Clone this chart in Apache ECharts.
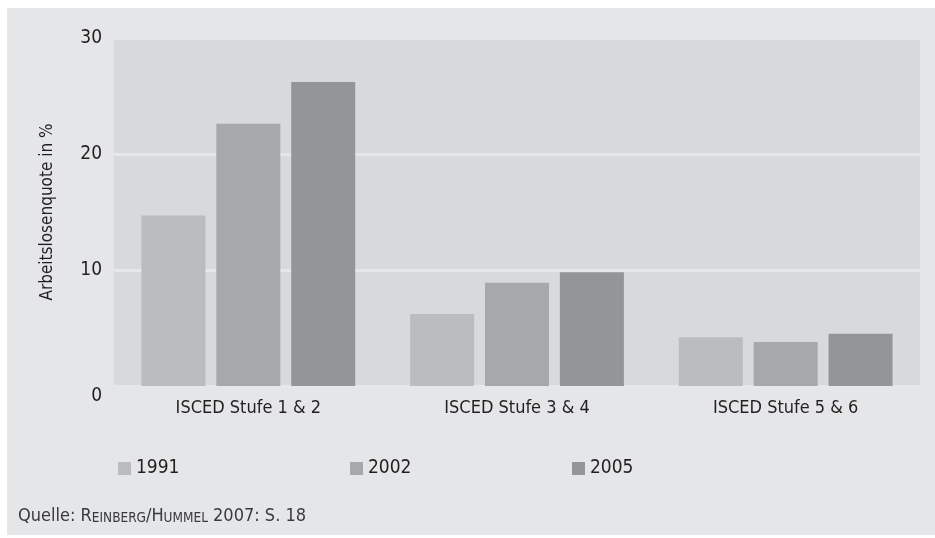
<!DOCTYPE html>
<html>
<head>
<meta charset="utf-8">
<script src="https://cdn.jsdelivr.net/npm/echarts@6/dist/echarts.min.js"></script>
<style>
html,body{margin:0;padding:0;background:#ffffff;}
#wrap{position:absolute;left:0;top:0;width:935px;height:538px;background:#ffffff;}
#chart{position:absolute;left:7px;top:8px;width:928px;height:527px;}
</style>
</head>
<body>
<div id="wrap"><div id="chart"></div></div>
<script>
var categories = ['ISCED Stufe 1 & 2', 'ISCED Stufe 3 & 4', 'ISCED Stufe 5 & 6'];
var years = ['1991', '2002', '2005'];
var values1991 = [14.7, 6.2, 4.2];
var values2002 = [22.6, 8.9, 3.8];
var values2005 = [26.2, 9.8, 4.5];
var yTicks = [0, 10, 20, 30];
var yAxisTitle = 'Arbeitslosenquote in %';
var colors = ['#bbbcbf', '#a7a8ab', '#949599'];

var FONT = "'Liberation Sans Narrow', 'DejaVu Sans Condensed', 'Liberation Sans', sans-serif";
var TXT = '#231f20';

var chart = echarts.init(document.getElementById('chart'), null, {renderer: 'canvas'});
var seriesData = [values1991, values2002, values2005];

function makeLegend(i, left) {
  return {
    data: [{name: years[i], icon: 'rect'}],
    left: left,
    top: 446,
    itemWidth: 13,
    itemHeight: 13,
    itemGap: 0,
    selectedMode: false,
    textStyle: {fontFamily: FONT, fontSize: 19, color: TXT, padding: [0, 0, 0, 0]}
  };
}

chart.setOption({
  backgroundColor: '#e5e6e8',
  animation: false,
  textStyle: {fontFamily: FONT},
  grid: {
    left: 107, right: 15, top: 30, bottom: 149,
    show: true, backgroundColor: '#d8d9db', borderWidth: 0
  },
  legend: [makeLegend(0, 106), makeLegend(1, 338), makeLegend(2, 560)],
  xAxis: {
    type: 'category',
    data: categories,
    axisLine: {show: false},
    axisTick: {show: false},
    axisLabel: {fontFamily: FONT, fontSize: 18, color: TXT, margin: 13}
  },
  yAxis: {
    type: 'value',
    min: yTicks[0],
    max: yTicks[yTicks.length - 1],
    interval: 10,
    name: yAxisTitle,
    nameLocation: 'middle',
    nameRotate: 90,
    nameGap: 58,
    nameTextStyle: {fontFamily: FONT, fontSize: 17, color: TXT},
    axisLine: {show: false},
    axisTick: {show: false},
    axisLabel: {
      fontFamily: FONT, fontSize: 19, color: TXT, margin: 12,
      formatter: function (v) { return v === 0 ? '{z|0}' : String(v); },
      rich: {z: {fontFamily: FONT, fontSize: 19, color: TXT, padding: [20, 0, 0, 0]}}
    },
    splitLine: {show: true, lineStyle: {color: '#e6e7e9', width: 3}}
  },
  series: years.map(function (y, i) {
    return {
      name: y,
      type: 'bar',
      data: seriesData[i],
      barWidth: 64,
      barGap: '17%',
      itemStyle: {color: colors[i]},
      z: 3
    };
  }),
  graphic: [{
    type: 'text',
    left: 11,
    top: 499,
    style: {
      text: 'Quelle: {sc|R}{s|EINBERG}{sc|/H}{s|UMMEL}{sc| 2007: S. 18}',
      fontFamily: FONT,
      fontSize: 18,
      fill: '#3a3a3c',
      rich: {
        sc: {fontFamily: FONT, fontSize: 18, fill: '#3a3a3c'},
        s: {fontFamily: FONT, fontSize: 13.5, fill: '#3a3a3c', verticalAlign: 'bottom'}
      }
    }
  }]
});
</script>
</body>
</html>
